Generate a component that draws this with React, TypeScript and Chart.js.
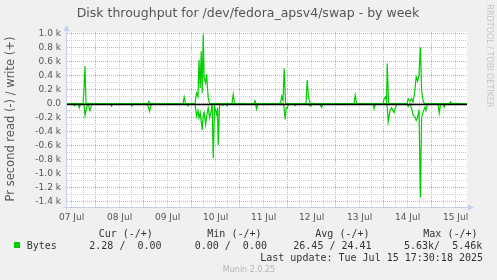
import React, { useEffect, useRef } from "react";
import { Chart, registerables } from "chart.js";

Chart.register(...registerables);

// ---------- data ----------
const chartTitle = "Disk throughput for /dev/fedora_apsv4/swap - by week";
const yAxisTitle = "Pr second read (-) / write (+)";
// x axis: hours since 07 Jul 00:00; day labels sit at noon
const dayLabels = ["07 Jul", "08 Jul", "09 Jul", "10 Jul", "11 Jul", "12 Jul", "13 Jul", "14 Jul", "15 Jul"];
const xStartHour = 9.7;
const xEndHour = 209.7;
const yMin = -1475;
const yMax = 1020;
// y grid every 100, labelled every 200
const yGridValues = [
  -1400, -1300, -1200, -1100, -1000, -900, -800, -700, -600, -500, -400, -300, -200, -100,
  0, 100, 200, 300, 400, 500, 600, 700, 800, 900, 1000,
];

// write (+) series
const writeHours = [
  9.7, 17.7, 18.2, 18.7, 19.2,
  50.2, 50.7, 51.2,
  67.7, 68.3, 69.0,
  73.7, 74.5, 75.2, 75.7, 76.3, 76.8, 77.3, 77.8, 78.3, 79.0, 79.5, 80.3, 81.0,
  92.2, 92.8, 93.5,
  103.2, 103.7, 104.2,
  116.5, 117.0, 117.7, 118.3, 119.0,
  129.2, 129.8, 130.5, 130.8, 131.5,
  153.2, 153.8, 154.5,
  167.7, 168.3, 169.0, 169.5, 169.8, 170.5,
  179.7, 180.3, 181.2, 182.0, 182.7, 183.5, 184.3, 185.0, 185.7, 186.4, 187.0, 187.8, 188.5,
  201.0, 201.5, 202.2,
  209.7,
];
const writeValues = [
  0, 0, 200, 533, 0,
  0, 30, 0,
  0, 93, 0,
  0, 150, 100, 625, 220, 745, 150, 985, 365, 295, 415, 80, 0,
  0, 130, 0,
  0, 40, 0,
  0, 105, 40, 500, 0,
  0, 335, 80, 50, 0,
  0, 120, 0,
  0, 70, 95, 30, 570, 0,
  0, 70, 30, 70, 20, 150, 380, 320, 405, 800, 190, 30, 0,
  0, 25, 0,
  0,
];

// read (-) series
const readHours = [
  9.7, 12.7, 13.5, 14.2,
  15.2, 15.8, 16.5,
  18.2, 18.7, 19.5, 20.2, 21.2, 22.0, 22.7,
  31.2, 32.0, 32.7,
  41.7, 42.2, 42.7,
  49.7, 50.5, 51.0, 51.5, 52.2,
  69.7, 70.2, 70.7,
  73.7, 74.5, 75.2, 75.7, 76.3, 77.3, 77.8, 78.3, 79.0, 79.7, 80.3, 81.0, 81.7, 82.3, 82.8, 83.5, 84.5, 85.0, 85.3, 86.0, 86.7,
  87.7, 88.3, 89.2, 89.7, 90.3,
  104.0, 104.5, 105.2,
  108.2, 108.7, 109.2,
  118.0, 118.8, 119.3, 119.8, 120.5,
  123.2, 123.7, 124.2,
  130.7, 131.2, 131.7,
  135.7, 136.5, 137.0, 137.7,
  139.2, 139.7, 140.2,
  162.7, 163.3, 164.0,
  169.7, 170.3, 171.2, 172.0, 173.2, 174.0, 174.7,
  179.7, 180.3, 181.2, 182.0, 182.8, 183.7, 184.3, 185.0, 185.7, 186.4, 187.0, 187.8, 188.7, 189.2, 190.0,
  195.2, 195.8, 196.5,
  197.7, 198.3, 199.0,
  203.2, 203.7, 204.2, 205.7, 206.2, 206.7, 209.7,
];
const readValues = [
  0, 0, -30, 0,
  0, -60, 0,
  0, -167, -60, 0, -100, -20, 0,
  0, -40, 0,
  0, -35, 0,
  0, -60, -110, -40, 0,
  0, -35, 0,
  0, -180, -100, -205, -130, -375, -170, -130, -300, -150, -60, -205, -120, 0, -775, -40, -155, -60, -590, -20, 0,
  -25, 0, 0, -30, 0,
  0, -80, 0,
  0, -15, 0,
  0, -225, -60, -70, 0,
  0, -30, 0,
  0, -35, 0,
  0, -30, -55, 0,
  0, -15, 0,
  0, -70, 0,
  0, -262, -100, -60, -130, -50, 0,
  0, -40, 0, -70, -165, -190, -240, -200, -90, -1340, -200, -115, -50, -100, 0,
  0, -135, 0,
  0, -50, 0,
  0, -15, 0, 0, -10, 0, 0,
];

const seriesName = "Bytes";
const legendHeaders = ["Cur (-/+)", "Min (-/+)", "Avg (-/+)", "Max (-/+)"];
const legendValues = ["2.28 /  0.00", "0.00 /  0.00", "26.45 / 24.41", "5.63k/  5.46k"];
const lastUpdate = "Last update: Tue Jul 15 17:30:18 2025";
const versionText = "Munin 2.0.25";
const sideText = "RRDTOOL / TOBI OETIKER";

// ---------- styles ----------
const GREEN = "#00CC00";
const BACK = "#F0F0F0";
const MAJOR = "#F29A9A";
const MINOR = "#CDCDCD";
const AXIS = "#C6CEF2";
const TEXT = "#555555";
const SANS = "'DejaVu Sans', sans-serif";
const MONO = "'DejaVu Sans Mono', monospace";

const toPoints = (xs: number[], ys: number[]) => xs.map((x, i) => ({ x, y: ys[i] }));

const muninPlugin = {
  id: "muninDecor",
  beforeDraw(chart: any) {
    const { ctx, chartArea: a } = chart;
    ctx.save();
    ctx.fillStyle = BACK;
    ctx.fillRect(0, 0, chart.width, chart.height);
    ctx.fillStyle = "#FFFFFF";
    ctx.fillRect(a.left, a.top, a.right - a.left, a.bottom - a.top);
    ctx.restore();
  },
  afterDatasetsDraw(chart: any) {
    const { ctx, chartArea: a } = chart;
    const yS = chart.scales.y;
    ctx.save();
    // zero rule
    const y0 = Math.round(yS.getPixelForValue(0)) + 0.5;
    ctx.strokeStyle = "#000000";
    ctx.lineWidth = 1.3;
    ctx.beginPath();
    ctx.moveTo(a.left, y0);
    ctx.lineTo(a.right, y0);
    ctx.stroke();
    // axes
    ctx.strokeStyle = AXIS;
    ctx.fillStyle = AXIS;
    ctx.lineWidth = 1;
    const xl = Math.round(a.left) - 0.5;
    const yb = Math.round(a.bottom) + 0.5;
    ctx.beginPath();
    ctx.moveTo(xl, yb + 3);
    ctx.lineTo(xl, a.top - 2);
    ctx.moveTo(xl - 3, yb);
    ctx.lineTo(a.right + 3, yb);
    ctx.stroke();
    ctx.beginPath();
    ctx.moveTo(xl, a.top - 7);
    ctx.lineTo(xl - 3, a.top - 1);
    ctx.lineTo(xl + 3, a.top - 1);
    ctx.closePath();
    ctx.fill();
    ctx.beginPath();
    ctx.moveTo(a.right + 7, yb);
    ctx.lineTo(a.right + 1, yb - 3);
    ctx.lineTo(a.right + 1, yb + 3);
    ctx.closePath();
    ctx.fill();
    ctx.restore();
  },
  afterDraw(chart: any) {
    const { ctx } = chart;
    ctx.save();
    // title
    ctx.fillStyle = TEXT;
    ctx.font = `12.5px ${SANS}`;
    ctx.textAlign = "center";
    ctx.textBaseline = "alphabetic";
    ctx.fillText(chartTitle, 248, 17);
    // y title
    ctx.save();
    ctx.translate(11, 119);
    ctx.rotate(-Math.PI / 2);
    ctx.font = `11.5px ${SANS}`;
    ctx.textBaseline = "middle";
    ctx.fillText(yAxisTitle, 0, 0);
    ctx.restore();
    // side text
    ctx.save();
    ctx.translate(489, 56);
    ctx.rotate(Math.PI / 2);
    ctx.fillStyle = "#C4C4C4";
    ctx.font = `8px ${SANS}`;
    ctx.textAlign = "center";
    ctx.textBaseline = "middle";
    ctx.fillText(sideText, 0, 0);
    ctx.restore();
    // legend
    ctx.textAlign = "left";
    ctx.fillStyle = "#333333";
    ctx.font = `10px ${MONO}`;
    const headerX = [98.7, 207.3, 315.3, 423.3];
    const valueX = [89.3, 194.7, 293.3, 404];
    legendHeaders.forEach((h, i) => ctx.fillText(h, headerX[i], 236.5));
    ctx.fillText(seriesName, 26.7, 248.5);
    legendValues.forEach((v, i) => ctx.fillText(v, valueX[i], 248.5));
    ctx.textAlign = "right";
    ctx.fillText(lastUpdate, 483, 260.5);
    ctx.fillStyle = GREEN;
    ctx.fillRect(14, 242, 6, 6);
    // version
    ctx.fillStyle = "#B4B4B4";
    ctx.font = `8px ${SANS}`;
    ctx.textAlign = "center";
    ctx.fillText(versionText, 249, 272);
    ctx.restore();
  },
};

export default function App() {
  const ref = useRef<HTMLCanvasElement | null>(null);
  useEffect(() => {
    if (!ref.current) return;
    const chart = new Chart(ref.current, {
      type: "line",
      data: {
        datasets: [
          {
            label: "write",
            data: toPoints(writeHours, writeValues),
            borderColor: GREEN,
            borderWidth: 1.2,
            pointRadius: 0,
            tension: 0,
            fill: false,
          },
          {
            label: "read",
            data: toPoints(readHours, readValues),
            borderColor: GREEN,
            borderWidth: 1.2,
            pointRadius: 0,
            tension: 0,
            fill: false,
          },
        ],
      },
      options: {
        responsive: false,
        maintainAspectRatio: false,
        animation: false,
        devicePixelRatio: 1,
        events: [],
        layout: { padding: { left: 0, top: 32, right: 30, bottom: 0 } },
        plugins: { legend: { display: false }, tooltip: { enabled: false } },
        scales: {
          x: {
            type: "linear",
            min: xStartHour,
            max: xEndHour,
            afterFit: (s: any) => {
              s.height = 73;
            },
            ticks: {
              stepSize: 6,
              includeBounds: false,
              autoSkip: false,
              maxRotation: 0,
              minRotation: 0,
              padding: 5,
              color: TEXT,
              font: { family: "DejaVu Sans", size: 9 },
              callback: (v: any) => {
                const h = Math.round(Number(v));
                if ((h - 12) % 24 === 0) return dayLabels[(h - 12) / 24] ?? "";
                return "";
              },
            },
            grid: {
              drawTicks: false,
              lineWidth: 1,
              color: (c: any) => {
                const h = Math.round(c.tick?.value ?? 0);
                return h % 24 === 0 ? MAJOR : MINOR;
              },
            },
            border: { display: false, dash: [1, 1] },
          },
          y: {
            type: "linear",
            min: yMin,
            max: yMax,
            afterFit: (s: any) => {
              s.width = 67;
            },
            afterBuildTicks: (s: any) => {
              s.ticks = yGridValues.map((value) => ({ value }));
            },
            ticks: {
              autoSkip: false,
              padding: 6,
              color: TEXT,
              font: { family: "DejaVu Sans", size: 9 },
              callback: (v: any) => {
                const r = Math.round(Number(v));
                if (r % 200 !== 0) return "";
                if (r === 0) return "0.0";
                return (r / 1000).toFixed(1) + " k";
              },
            },
            grid: {
              drawTicks: false,
              lineWidth: 1,
              color: (c: any) => {
                const r = Math.round(c.tick?.value ?? 0);
                return r % 200 === 0 ? MAJOR : MINOR;
              },
            },
            border: { display: false, dash: [1, 1] },
          },
        },
      },
      plugins: [muninPlugin],
    });
    return () => chart.destroy();
  }, []);
  return (
    <div style={{ position: "fixed", left: 0, top: 0, width: 497, height: 280 }}>
      <canvas ref={ref} width={497} height={280} style={{ display: "block" }} />
    </div>
  );
}
